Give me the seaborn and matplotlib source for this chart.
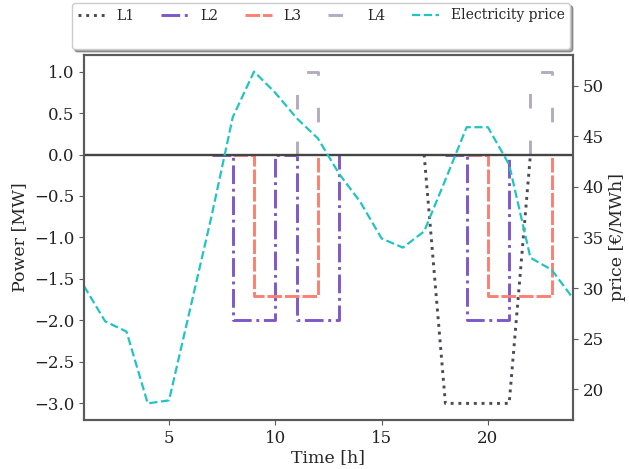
import numpy as np
import pandas as pd
import matplotlib
matplotlib.use("Agg")
import matplotlib.pyplot as plt
from matplotlib.lines import Line2D
import seaborn as sns

# hours of the day
hours = list(range(1, 25))

# load schedules [MW]
L1 = [0] * 17 + [-3] * 4 + [0] * 3
L2 = [0] * 7 + [-2, -2] + [0] + [-2, -2] + [0] * 6 + [-2, -2] + [0] * 4
L3 = [0] * 8 + [-1.7] * 3 + [0] * 8 + [-1.7] * 3 + [0] * 2
L4 = [0] * 10 + [1] + [0] * 10 + [1] + [0] * 2

# electricity price [EUR/MWh]
price = [30.2, 26.7, 25.7, 18.6, 18.9, 28.0, 37.1, 46.9, 51.4, 49.3, 46.8, 44.8,
         41.3, 38.5, 34.9, 34.0, 35.6, 40.7, 45.9, 45.9, 42.2, 33.0, 31.8, 29.0]


def active_blocks(values):
    # idle hours (zero with zero neighbours) are left to the zero line;
    # the rest is split into separate runs so seaborn does not bridge the gaps
    v = np.asarray(values, dtype=float)
    padded = np.concatenate([[0.0], v, [0.0]])
    idle = (v == 0) & (padded[:-2] == 0) & (padded[2:] == 0)
    d = pd.DataFrame({'hour': hours, 'value': v, 'block': np.cumsum(idle)})
    return d[~idle]


sns.set_style("ticks")
plt.rcParams['font.family'] = ['DejaVu Serif']
plt.rcParams['axes.edgecolor'] = '#5a5a5a'
plt.rcParams['axes.linewidth'] = 1.5
plt.rcParams['xtick.color'] = '#5a5a5a'
plt.rcParams['ytick.color'] = '#5a5a5a'
plt.rcParams['xtick.labelcolor'] = '#222222'
plt.rcParams['ytick.labelcolor'] = '#222222'

fig = plt.figure(figsize=(6.29, 4.69), dpi=100)
ax = fig.add_axes([0.1335, 0.1045, 0.7774, 0.7783])

lw = 2.1
price_color = '#22c3c3'
# name: values, colour, line style (plot), line style (legend), drawstyle
loads = {
    'L1': (L1, '#4a4a55', ':', ':', 'default'),
    'L2': (L2, '#7e57c8', '-.', '-.', 'steps-post'),
    'L3': (L3, '#fa8072', (0, (5, 1)), (0, (5, 1)), 'steps-post'),
    'L4': (L4, '#b4abc0', (8.7, (5, 11)), (0, (5, 11)), 'steps-post'),
}

handles = []
for name, (vals, col, ls, leg_ls, ds) in loads.items():
    sns.lineplot(data=active_blocks(vals), x='hour', y='value', units='block',
                 estimator=None, ax=ax, color=col, linewidth=lw, linestyle=ls,
                 drawstyle=ds)
    handles.append(Line2D([], [], color=col, linestyle=leg_ls, linewidth=lw))

ax.axhline(0, color='#444444', linewidth=1.7, zorder=5)

ax.set_xlim(1, 24)
ax.set_ylim(-3.2, 1.2)
ax.set_xticks([5, 10, 15, 20])
ax.set_xlabel('Time [h]', fontsize=12.5, labelpad=2)
ax.set_ylabel('Power [MW]', fontsize=12.5)
ax.tick_params(labelsize=12)

ax2 = ax.twinx()
sns.lineplot(x=hours, y=price, ax=ax2, color=price_color, linewidth=1.6,
             linestyle='--')
ax2.set_ylabel('price [€/MWh]', fontsize=12.5)
ax2.tick_params(labelsize=12)
ax2.set_xlim(1, 24)

# blank entry fills the second legend row
handles.insert(1, Line2D([], [], color='none', linewidth=0))
handles.append(Line2D([], [], color=price_color, linestyle='--', linewidth=1.6))
labels = ['L1', '', 'L2', 'L3', 'L4', 'Electricity price']
fig.legend(handles, labels, loc='lower left', ncol=5, mode='expand',
           bbox_to_anchor=(72 / 629, 1 - 49 / 469, 498 / 629, 0),
           borderaxespad=0, shadow=True, fontsize=10)

plt.savefig('out.png', dpi=100)
